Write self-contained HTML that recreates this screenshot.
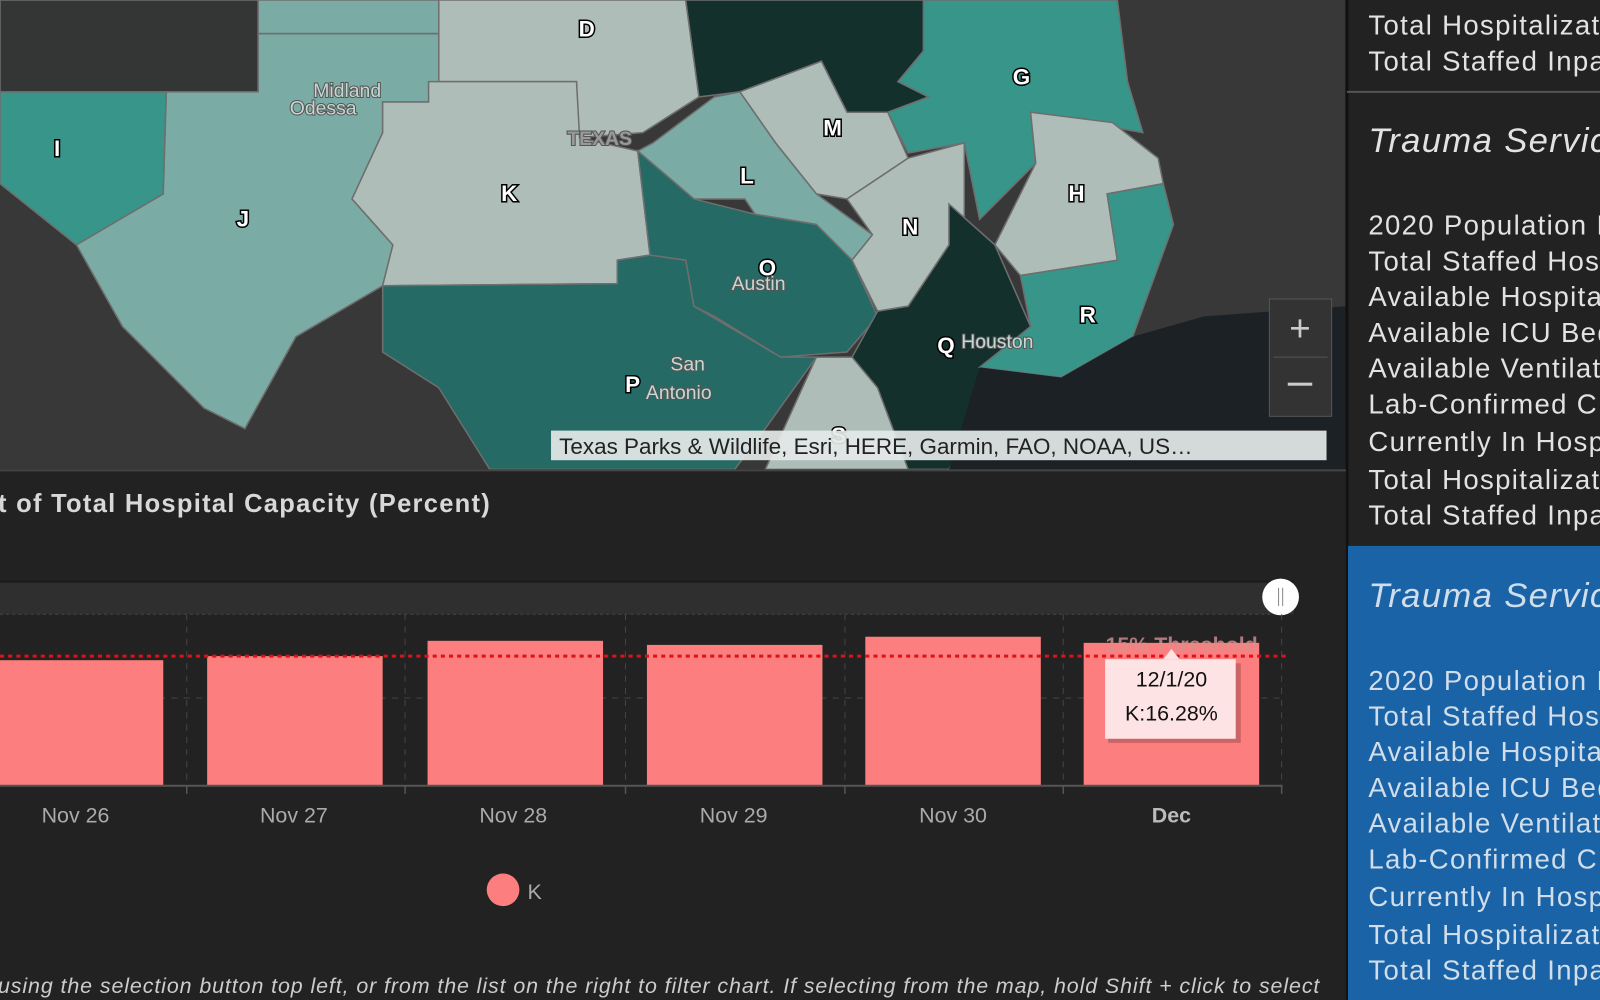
<!DOCTYPE html>
<html><head><meta charset="utf-8"><style>
html,body{margin:0;padding:0;background:#222;overflow:hidden}
svg{display:block}
text{font-family:"Liberation Sans",sans-serif}
.lt{paint-order:stroke}
</style></head><body>
<svg width="1600" height="1000" viewBox="0 0 1568 980" xmlns="http://www.w3.org/2000/svg">
<rect width="1568" height="980" fill="#222"/>
<!-- MAP -->
<rect x="0" y="0" width="1320" height="460" fill="#373837"/>
<g stroke="#6e6e6e" stroke-width="1.5">
<rect x="0" y="0" width="253" height="90" fill="#343535"/>
<polygon points="253,0 478,0 478,33 253,33" fill="#7aaca5"/>
<polygon points="0,90 163,90 160,190 75,240 0,180" fill="#37958a"/>
<polygon points="253,33 430,33 430,80 420,100 375,100 375,130 345,195 385,240 375,280 290,330 240,420 200,400 120,320 75,240 160,190 163,90 253,90" fill="#7aaca5"/>
<polygon points="430,0 672,0 685,95 630,130 565,135 565,80 430,80" fill="#aebdb7"/>
<polygon points="420,80 565,80 568,135 625,148 637,250 605,255 605,278 375,280 385,240 345,195 375,130 375,100 420,100" fill="#aebdb7"/>
<polygon points="672,0 905,0 905,50 880,80 910,95 870,110 830,110 805,60 725,90 685,95" fill="#13302c"/>
<polygon points="905,0 1095,0 1105,80 1120,130 1010,110 1015,160 960,215 945,140 890,150 870,110 910,95 880,80 905,50" fill="#37958a"/>
<polygon points="725,90 805,60 830,110 870,110 890,155 830,195 800,190 760,140" fill="#aebdb7"/>
<polygon points="625,148 640,140 700,95 725,90 760,140 800,190 855,230 835,255 800,220 740,210 730,195 680,195" fill="#7aaca5"/>
<polygon points="625,148 680,195 740,210 800,220 835,255 860,310 830,345 765,350 700,310 680,300 672,255 637,250" fill="#256a65"/>
<polygon points="375,280 605,278 605,255 637,250 672,255 680,300 765,350 800,350 750,420 720,460 480,460 430,380 375,345" fill="#256a65"/>
<polygon points="830,195 890,155 945,140 945,215 930,240 890,300 860,305 835,255 855,230" fill="#aebdb7"/>
<polygon points="930,200 975,240 1010,320 980,360 930,460 880,460 835,350 860,305 890,300 930,240" fill="#13302c"/>
<polygon points="1010,110 1090,120 1135,155 1140,180 1085,190 1095,255 1000,270 975,240 1015,160" fill="#aebdb7"/>
<polygon points="1085,190 1140,180 1150,220 1110,330 1040,370 960,360 1010,320 1000,270 1095,255" fill="#37958a"/>
<polygon points="800,350 835,350 860,380 890,460 750,460" fill="#aebdb7"/>
</g>
<polygon points="960,360 1040,370 1110,330 1180,310 1320,300 1320,460 930,460" fill="#1c2125"/>
<g font-weight="bold" font-size="22" fill="#fff" stroke="#000" stroke-width="3" text-anchor="middle" class="lt">
<text x="575" y="36">D</text><text x="1001" y="83">G</text><text x="56" y="153">I</text>
<text x="816" y="133">M</text><text x="499" y="197">K</text><text x="732" y="180">L</text>
<text x="1055" y="197">H</text><text x="238" y="222">J</text><text x="892" y="230">N</text>
<text x="752" y="270">O</text><text x="1066" y="316">R</text><text x="927" y="346">Q</text>
<text x="620" y="384">P</text><text x="822" y="434">S</text>
</g>
<g font-size="19" fill="#c8d6d2" stroke="#555" stroke-width="2" class="lt">
<text x="307" y="95">Midland</text><text x="284" y="112">Odessa</text>
<text x="717" y="284">Austin</text><text x="657" y="363">San</text><text x="633" y="391">Antonio</text>
<text x="942" y="341">Houston</text><text x="556" y="142" fill="#999" font-weight="bold">TEXAS</text>
</g>
<rect x="540" y="422" width="760" height="29" fill="#e4e9e8" opacity="0.92"/>
<text x="548" y="445" font-size="22" fill="#222">Texas Parks &amp; Wildlife, Esri, HERE, Garmin, FAO, NOAA, US…</text>
<rect x="1244" y="293" width="61" height="115" fill="#333" stroke="#555"/>
<line x1="1248" y1="350" x2="1301" y2="350" stroke="#555"/>
<text x="1274" y="334" font-size="36" fill="#ccc" text-anchor="middle">+</text>
<rect x="1262" y="375" width="24" height="3" fill="#ccc"/>
<!-- RIGHT PANEL -->
<rect x="1320" y="0" width="248" height="980" fill="#222"/>
<line x1="1320" y1="0" x2="1320" y2="980" stroke="#111" stroke-width="3"/>
<line x1="1320" y1="90" x2="1568" y2="90" stroke="#555" stroke-width="2"/>
<rect x="1321" y="535" width="247" height="445" fill="#1a63a6"/>
<g font-size="27" fill="#e2e2e2" letter-spacing="1.3">
<text x="1341" y="34">Total Hospitalizati</text><text x="1341" y="69">Total Staffed Inpa</text>
<text x="1341" y="149" font-style="italic" font-size="34">Trauma Servic</text>
<text x="1341" y="230">2020 Population I</text><text x="1341" y="265">Total Staffed Hosp</text>
<text x="1341" y="300">Available Hospita</text><text x="1341" y="335">Available ICU Bed</text>
<text x="1341" y="370">Available Ventilat</text><text x="1341" y="405">Lab-Confirmed C</text>
<text x="1341" y="442">Currently In Hosp</text><text x="1341" y="479">Total Hospitalizati</text>
<text x="1341" y="514">Total Staffed Inpa</text>
</g>
<g font-size="27" fill="#d0ddea" letter-spacing="1.3">
<text x="1341" y="595" font-style="italic" font-size="34">Trauma Servic</text>
<text x="1341" y="676">2020 Population I</text><text x="1341" y="711">Total Staffed Hosp</text>
<text x="1341" y="746">Available Hospita</text><text x="1341" y="781">Available ICU Bed</text>
<text x="1341" y="816">Available Ventilat</text><text x="1341" y="851">Lab-Confirmed C</text>
<text x="1341" y="888">Currently In Hosp</text><text x="1341" y="925">Total Hospitalizati</text>
<text x="1341" y="960">Total Staffed Inpa</text>
</g>
<!-- CHART -->
<rect x="0" y="460" width="1319" height="520" fill="#222"/>
<line x1="0" y1="461" x2="1319" y2="461" stroke="#444" stroke-width="2"/>
<text x="-2" y="502" font-size="25" font-weight="bold" fill="#d8d8d8" textLength="482">t of Total Hospital Capacity (Percent)</text>
<rect x="0" y="570" width="1268" height="32" fill="#2f2f2f"/>
<line x1="0" y1="570" x2="1268" y2="570" stroke="#1a1a1a" stroke-width="2"/>
<line x1="0" y1="602" x2="1260" y2="602" stroke="#444" stroke-dasharray="3,3"/>
<circle cx="1255" cy="585" r="18" fill="#fff"/>
<line x1="1253" y1="576" x2="1253" y2="594" stroke="#888"/><line x1="1257" y1="576" x2="1257" y2="594" stroke="#888"/>
<g stroke="#444" stroke-dasharray="6,6">
<line x1="183" y1="602" x2="183" y2="770"/><line x1="397" y1="602" x2="397" y2="770"/>
<line x1="613" y1="602" x2="613" y2="770"/><line x1="828" y1="602" x2="828" y2="770"/>
<line x1="1042" y1="602" x2="1042" y2="770"/><line x1="1256" y1="602" x2="1256" y2="770"/>
<line x1="0" y1="684" x2="1260" y2="684"/>
</g>
<g fill="#fd7e7e">
<rect x="0" y="647" width="160" height="123"/><rect x="203" y="643" width="172" height="127"/>
<rect x="419" y="628" width="172" height="142"/><rect x="634" y="632" width="172" height="138"/>
<rect x="848" y="624" width="172" height="146"/><rect x="1062" y="630" width="172" height="140"/>
</g>
<line x1="0" y1="770" x2="1257" y2="770" stroke="#555" stroke-width="2"/>
<g stroke="#555" stroke-width="1.5">
<line x1="183" y1="770" x2="183" y2="778"/><line x1="397" y1="770" x2="397" y2="778"/>
<line x1="613" y1="770" x2="613" y2="778"/><line x1="828" y1="770" x2="828" y2="778"/>
<line x1="1042" y1="770" x2="1042" y2="778"/><line x1="1256" y1="770" x2="1256" y2="778"/>
</g>
<line x1="0" y1="643" x2="1262" y2="643" stroke="#e0101a" stroke-width="3" stroke-dasharray="4,4"/>
<text x="1158" y="639" font-size="21" font-weight="bold" fill="#d89090" text-anchor="middle" opacity="0.8">15% Threshold</text>
<rect x="1086" y="650" width="130" height="78" fill="#a55" opacity="0.6"/>
<rect x="1083" y="646" width="128" height="78" fill="#fde3e3"/>
<polygon points="1140,646 1148,636 1156,646" fill="#fde3e3"/>
<text x="1148" y="673" font-size="21" fill="#111" text-anchor="middle">12/1/20</text>
<text x="1148" y="706" font-size="21" fill="#111" text-anchor="middle">K:16.28%</text>
<g font-size="21" fill="#aaa" text-anchor="middle">
<text x="74" y="806">Nov 26</text><text x="288" y="806">Nov 27</text><text x="503" y="806">Nov 28</text>
<text x="719" y="806">Nov 29</text><text x="934" y="806">Nov 30</text>
<text x="1148" y="806" font-weight="bold" fill="#bbb">Dec</text>
</g>
<circle cx="493" cy="872" r="16" fill="#fd7e7e"/>
<text x="517" y="881" font-size="21" fill="#aaa">K</text>
<text x="-2" y="973" font-size="21" font-style="italic" fill="#ccc" textLength="1295">using the selection button top left, or from the list on the right to filter chart. If selecting from the map, hold Shift + click to select</text>
</svg>
</body></html>
